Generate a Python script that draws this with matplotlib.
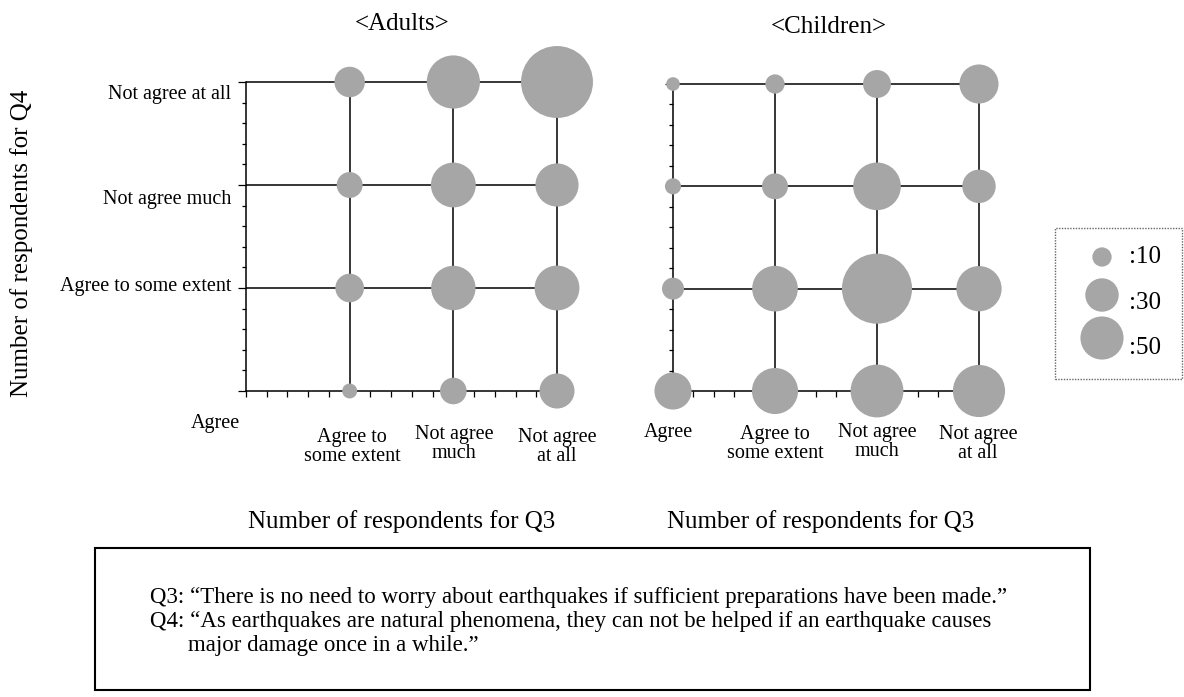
import numpy as np
import matplotlib
matplotlib.use("Agg")
import matplotlib.pyplot as plt
from matplotlib.patches import Rectangle
from matplotlib.ticker import MultipleLocator

plt.rcParams['font.family'] = ['Liberation Serif', 'DejaVu Serif']

# ---------------- data ----------------
q3_categories = ["Agree", "Agree to\nsome extent", "Not agree\nmuch", "Not agree\nat all"]
q4_categories = ["Agree", "Agree to some extent", "Not agree much", "Not agree at all"]

# rows: Q4 answer (Agree, Agree to some extent, Not agree much, Not agree at all)
# cols: Q3 answer (same order)
adults_counts = [
    [0, 6, 19, 33],
    [0, 22, 53, 54],
    [0, 18, 54, 50],
    [0, 25, 76, 139],
]
children_counts = [
    [37, 57, 75, 73],
    [13, 56, 132, 55],
    [7, 18, 61, 30],
    [5, 10, 21, 41],
]
legend_values = [10, 30, 50]
legend_labels = [":10", ":30", ":50"]

panel_titles = ["<Adults>", "<Children>"]
x_axis_title = "Number of respondents for Q3"
y_axis_title = "Number of respondents for Q4"
note_lines = [
    "Q3: \u201cThere is no need to worry about earthquakes if sufficient preparations have been made.\u201d",
    "Q4: \u201cAs earthquakes are natural phenomena, they can not be helped if an earthquake causes",
    "major damage once in a while.\u201d",
]

# ---------------- style ----------------
W, H = 1184, 697
DPI = 100
BUBBLE = "#a6a6a6"
SIZE_PER_UNIT = 19.3  # points^2 per respondent

fig = plt.figure(figsize=(W / DPI, H / DPI), dpi=DPI)
fig.patch.set_facecolor("white")


def fx(px):
    return px / W


def fy(py):
    return 1 - py / H


def ptext(x, y, s, **kw):
    fig.text(fx(x), fy(y), s, **kw)


def make_panel(left, right, top, bottom, counts):
    ax = fig.add_axes([fx(left), fy(bottom), fx(right) - fx(left), fy(top) - fy(bottom)])
    n = len(q3_categories)
    ax.set_xlim(0, n - 1)
    ax.set_ylim(0, n - 1)
    for s in ("top", "right"):
        ax.spines[s].set_visible(False)
    for s in ("left", "bottom"):
        ax.spines[s].set_linewidth(1.1)
    # grid lines
    ax.hlines(range(1, n), 0, n - 1, color="black", lw=1.1, zorder=1, clip_on=False)
    ax.vlines(range(1, n), 0, n - 1, color="black", lw=1.1, zorder=1, clip_on=False)
    # ticks
    ax.yaxis.set_major_locator(MultipleLocator(1))
    ax.yaxis.set_minor_locator(MultipleLocator(0.2))
    ax.xaxis.set_major_locator(MultipleLocator(1))
    ax.xaxis.set_minor_locator(MultipleLocator(0.2))
    ax.tick_params(axis="y", which="major", direction="out", length=6, width=0.9, labelleft=False)
    ax.tick_params(axis="y", which="minor", direction="out", length=3, width=0.9)
    ax.tick_params(axis="x", which="major", direction="out", length=4, width=0.9, labelbottom=False)
    ax.tick_params(axis="x", which="minor", direction="out", length=4, width=0.9)
    # bubbles
    xs, ys, ss = [], [], []
    for r, row in enumerate(counts):
        for c, v in enumerate(row):
            if v > 0:
                xs.append(c)
                ys.append(r)
                ss.append(v * SIZE_PER_UNIT)
    ax.scatter(xs, ys, s=ss, color=BUBBLE, edgecolors="none", zorder=3, clip_on=False)
    return ax


ax_a = make_panel(246, 557, 82, 391, adults_counts)
ax_c = make_panel(673, 979, 84, 391, children_counts)

# titles
ptext(402, 24, panel_titles[0], ha="center", va="center", fontsize=18)
ptext(829, 27, panel_titles[1], ha="center", va="center", fontsize=18)

# y axis title
ptext(22, 243, y_axis_title, ha="center", va="center", rotation=90, fontsize=18)

# y tick labels (Q4)
ytick_pos = [None, 287, 200, 94]
for lab, y in zip(q4_categories, ytick_pos):
    if y is not None:
        ptext(231, y, lab, ha="right", va="center", fontsize=14.5)

# x tick labels (Q3)
adult_xlab_pos = [(215, 424), (352, 447), (454, 444), (557, 447)]
child_xlab_pos = [(668, 433), (775, 444), (877, 442), (978, 444)]
for lab, (x, y) in zip(q3_categories, adult_xlab_pos):
    ptext(x, y, lab, ha="center", va="center", fontsize=14.5, linespacing=0.95)
for lab, (x, y) in zip(q3_categories, child_xlab_pos):
    ptext(x, y, lab, ha="center", va="center", fontsize=14.5, linespacing=0.95)

# x axis titles
ptext(402, 522, x_axis_title, ha="center", va="center", fontsize=18)
ptext(821, 522, x_axis_title, ha="center", va="center", fontsize=18)

# legend
lax = fig.add_axes([fx(1055), fy(379), fx(1184) - fx(1055), fy(228) - fy(379)])
lax.set_xlim(1055, 1184)
lax.set_ylim(379, 228)
lax.axis("off")
fig.patches.append(Rectangle((fx(1055), fy(379)), fx(1182) - fx(1055), fy(228) - fy(379),
                             transform=fig.transFigure, fill=False, edgecolor="#666666",
                             lw=1.0, linestyle=(0, (1, 1))))
leg_y_circle = [257, 295, 338]
leg_y_text = [257, 303, 348]
lax.scatter([1102] * len(legend_values), leg_y_circle,
            s=[v * SIZE_PER_UNIT for v in legend_values], color=BUBBLE, edgecolors="none", clip_on=False)
for lab, y in zip(legend_labels, leg_y_text):
    lax.text(1129, y, lab, ha="left", va="center", fontsize=18)

# note box
fig.patches.append(Rectangle((fx(95), fy(690)), fx(1090) - fx(95), fy(548) - fy(690),
                             transform=fig.transFigure, fill=False, edgecolor="black", lw=1.5))
ptext(150, 598, note_lines[0], ha="left", va="center", fontsize=16.5)
ptext(150, 622, note_lines[1], ha="left", va="center", fontsize=16.5)
ptext(188, 645, note_lines[2], ha="left", va="center", fontsize=16.5)

fig.savefig("out.png", dpi=DPI)
